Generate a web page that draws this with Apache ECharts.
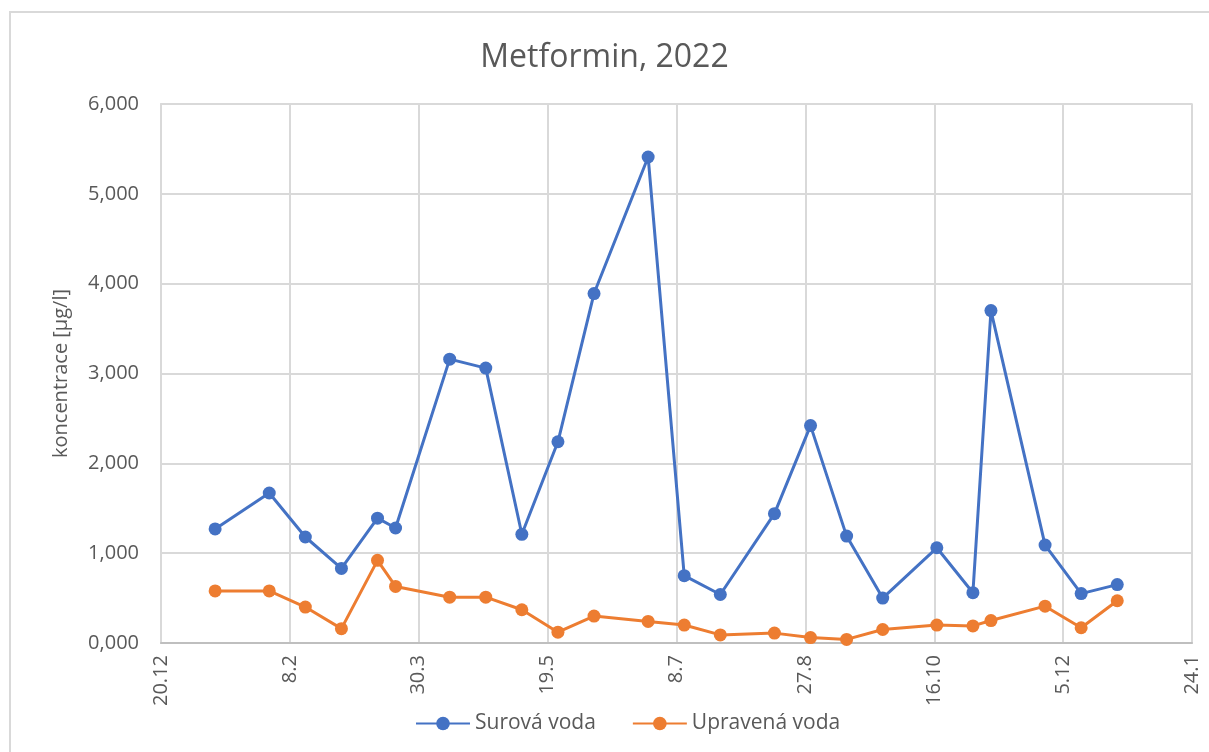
<!DOCTYPE html>
<html>
<head>
<meta charset="utf-8">
<script src="https://cdn.jsdelivr.net/npm/echarts@6/dist/echarts.min.js"></script>
<style>
  html, body { margin: 0; padding: 0; background: #fff; }
  #chart { width: 1209px; height: 752px; }
</style>
</head>
<body>
<div id="chart"></div>
<script>
// sampling dates (2022), raw and treated water
var dates = [
  '2022-01-10', '2022-01-31', '2022-02-14', '2022-02-28', '2022-03-14', '2022-03-21',
  '2022-04-11', '2022-04-25', '2022-05-09', '2022-05-23', '2022-06-06', '2022-06-27',
  '2022-07-11', '2022-07-25', '2022-08-15', '2022-08-29', '2022-09-12', '2022-09-26',
  '2022-10-17', '2022-10-31', '2022-11-07', '2022-11-28', '2022-12-12', '2022-12-26'
];
var surova = [
  1.27, 1.67, 1.18, 0.83, 1.39, 1.28,
  3.16, 3.06, 1.21, 2.24, 3.89, 5.41,
  0.75, 0.54, 1.44, 2.42, 1.19, 0.50,
  1.06, 0.56, 3.70, 1.09, 0.55, 0.65
];
var upravena = [
  0.58, 0.58, 0.40, 0.16, 0.92, 0.63,
  0.51, 0.51, 0.37, 0.12, 0.30, 0.24,
  0.20, 0.09, 0.11, 0.06, 0.04, 0.15,
  0.20, 0.19, 0.25, 0.41, 0.17, 0.47
];
var xStart = '2021-12-20';
var xDays = 400;
var xStep = 50;
var yMax = 6;

var DAY = 86400000;
var base = Date.parse(xStart);
function dayOf(s) { return Math.round((Date.parse(s) - base) / DAY); }
function pairs(vals) {
  return dates.map(function (d, i) { return [dayOf(d), vals[i]]; });
}

var chart = echarts.init(document.getElementById('chart'));
var txt = '#595959';
var font = '"Open Sans", "Noto Sans", sans-serif';

chart.setOption({
  animation: false,
  textStyle: { fontFamily: font },
  color: ['#4472C4', '#ED7D31'],
  graphic: [{
    type: 'rect',
    shape: { x: 10, y: 12, width: 1220, height: 760 },
    style: { fill: 'none', stroke: '#D9D9D9', lineWidth: 2 }
  }],
  title: {
    text: 'Metformin, 2022',
    left: 'center',
    top: 37,
    textStyle: { color: txt, fontSize: 32, fontWeight: 'normal', fontFamily: font }
  },
  legend: {
    bottom: 13,
    left: 410,
    itemWidth: 54,
    itemHeight: 17,
    itemGap: 36,
    textStyle: { color: txt, fontSize: 21, fontFamily: font }
  },
  grid: { left: 161, right: 17, top: 104, bottom: 109, show: true, borderColor: '#D9D9D9', borderWidth: 1.5 },
  xAxis: {
    type: 'value',
    min: 0,
    max: xDays,
    interval: xStep,
    axisLine: { show: true, lineStyle: { color: '#BFBFBF', width: 2 } },
    axisTick: { show: false },
    splitLine: { show: true, lineStyle: { color: '#D9D9D9', width: 2 } },
    axisLabel: {
      rotate: 90,
      margin: 12,
      color: txt,
      fontSize: 20,
      fontFamily: font,
      formatter: function (v) {
        var d = new Date(base + v * DAY);
        return d.getUTCDate() + '.' + (d.getUTCMonth() + 1);
      }
    }
  },
  yAxis: {
    type: 'value',
    min: 0,
    max: yMax,
    interval: 1,
    name: 'koncentrace [µg/l]',
    nameLocation: 'middle',
    nameGap: 90,
    nameTextStyle: { color: txt, fontSize: 20, fontFamily: font },
    axisLine: { show: true, lineStyle: { color: '#D9D9D9', width: 2 } },
    axisTick: { show: false },
    splitLine: { lineStyle: { color: '#D9D9D9', width: 2 } },
    axisLabel: {
      margin: 22,
      color: txt,
      fontSize: 20,
      fontFamily: font,
      formatter: function (v) { return v.toFixed(3).replace('.', ','); }
    }
  },
  series: [
    {
      name: 'Surová voda',
      type: 'line',
      data: pairs(surova),
      symbol: 'circle',
      symbolSize: 13,
      lineStyle: { width: 3 }
    },
    {
      name: 'Upravená voda',
      type: 'line',
      data: pairs(upravena),
      symbol: 'circle',
      symbolSize: 13,
      lineStyle: { width: 3 }
    }
  ]
});
</script>
</body>
</html>
